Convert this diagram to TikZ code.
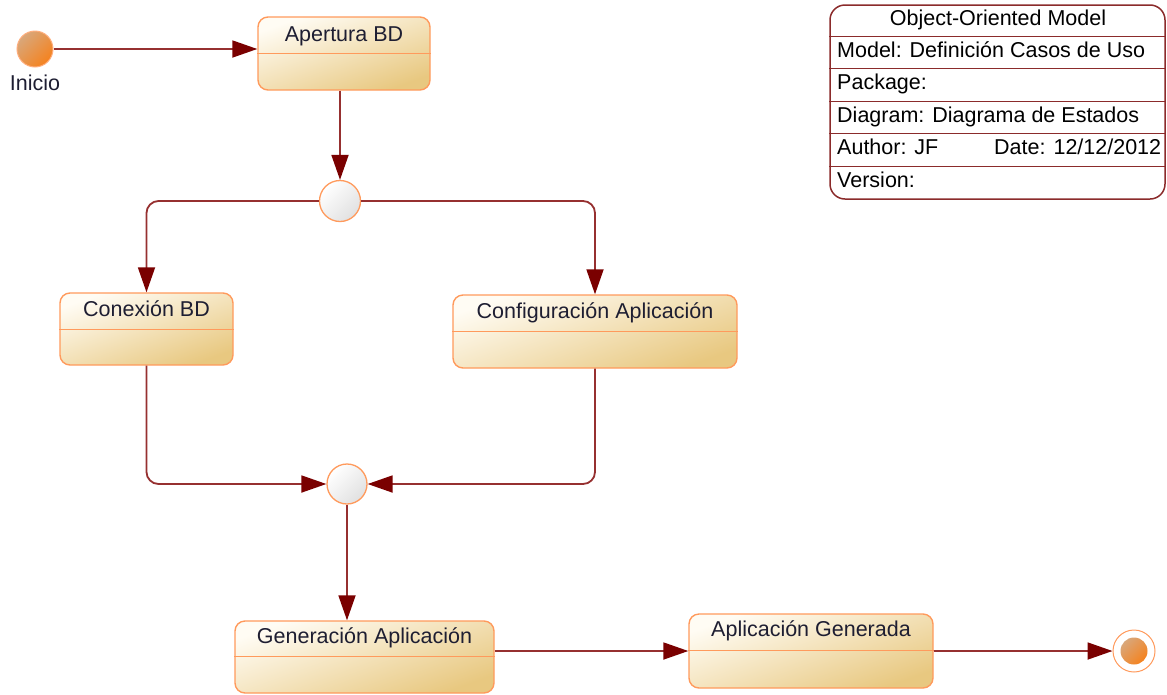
\documentclass[tikz,border=0pt]{standalone}
\usepackage{fontspec}
\setmainfont{Liberation Sans}
\usetikzlibrary{arrows.meta,calc}

\definecolor{boxedge}{HTML}{FF9A5C}
\definecolor{boxlight}{HTML}{FFFCF4}
\definecolor{boxdark}{HTML}{E8C880}
\definecolor{wire}{HTML}{963030}
\definecolor{tipred}{HTML}{7A0000}
\definecolor{inkblue}{HTML}{1E1E32}
\definecolor{framered}{HTML}{8B2B2B}
\definecolor{dotlight}{HTML}{D9A77A}
\definecolor{dotdark}{HTML}{F5821E}

\tikzset{
  statebox/.style={draw=boxedge, line width=1.4pt, rounded corners=10pt,
    top color=boxlight, bottom color=boxdark, shading angle=20, inner sep=0pt},
  statelabel/.style={font=\fontsize{21.5}{25}\selectfont, text=inkblue, inner sep=0pt},
  divider/.style={draw=boxedge, line width=1.6pt},
  flow/.style={draw=wire, line width=1.8pt, rounded corners=12pt,
    -{Triangle[length=25pt,width=17pt,color=tipred]}},
  barnode/.style={circle, draw=boxedge, line width=1.3pt, top color=white,
    bottom color=black!12, shading angle=45, minimum size=41pt, inner sep=0pt},
  startdot/.style={circle, draw=boxedge!80, line width=1pt, top color=dotlight,
    bottom color=dotdark, shading angle=45, minimum size=36pt, inner sep=0pt},
  infotext/.style={font=\fontsize{21.5}{25}\selectfont, text=black, inner sep=0pt},
  inforule/.style={draw=framered, line width=1.3pt},
}

\begin{document}
\begin{tikzpicture}[x=1pt, y=-1pt]
\useasboundingbox (0,0) rectangle (1167,694);

% initial state
\node[startdot] (start) at (35,49) {};
\node[statelabel] (inicio) at (35,82.5) {Inicio};

% states
\node[statebox, minimum width=172pt, minimum height=73pt] (ap) at (344,53.5) {};
\node[statelabel, anchor=base] (apt) at ([yshift=-25pt]ap.north) {Apertura BD};
\draw[divider] ([yshift=-37pt]ap.north west) -- ([yshift=-37pt]ap.north east);

\node[statebox, minimum width=173pt, minimum height=72pt] (cx) at (146.5,329) {};
\node[statelabel, anchor=base] (cxt) at ([yshift=-24pt]cx.north) {Conexión BD};
\draw[divider] ([yshift=-37pt]cx.north west) -- ([yshift=-37pt]cx.north east);

\node[statebox, minimum width=284pt, minimum height=73pt] (cf) at (595,331.5) {};
\node[statelabel, anchor=base] (cft) at ([yshift=-24pt]cf.north) {Configuración Aplicación};
\draw[divider] ([yshift=-37pt]cf.north west) -- ([yshift=-37pt]cf.north east);

\node[statebox, minimum width=259pt, minimum height=72pt] (ga) at (364.5,657) {};
\node[statelabel, anchor=base] (gat) at ([yshift=-23pt]ga.north) {Generación Aplicación};
\draw[divider] ([yshift=-36pt]ga.north west) -- ([yshift=-36pt]ga.north east);

\node[statebox, minimum width=244pt, minimum height=74pt] (ag) at (811,651) {};
\node[statelabel, anchor=base] (agt) at ([yshift=-23pt]ag.north) {Aplicación Generada};
\draw[divider] ([yshift=-37pt]ag.north west) -- ([yshift=-37pt]ag.north east);

% fork and join
\node[barnode] (fk) at (340,201) {};
\node[barnode, minimum size=40pt] (jn) at (347,484) {};

% final state
\node[circle, draw=boxedge, line width=1pt, fill=white, minimum size=42pt, inner sep=0pt] (fin) at (1134,651) {};
\node[circle, top color=dotlight, bottom color=dotdark, shading angle=45, minimum size=27pt, inner sep=0pt] (fincore) at (fin) {};

% transitions
\draw[flow] (start) -- (start -| ap.west);
\draw[flow] (ap.south -| fk) -- (fk.north);
\draw[flow] (fk.west) -| (cx.north);
\draw[flow] (fk.east) -| (cf.north);
\draw[flow] (cx.south) |- (jn.west);
\draw[flow] (cf.south) |- (jn.east);
\draw[flow] (jn.south) -- (jn |- ga.north);
\draw[flow] (ag.west -| ga.east) -- (ag.west);
\draw[flow] (ag.east) -- (fin.west);

% model information block
\node[draw=framered, line width=1.5pt, rounded corners=15pt, fill=white,
      minimum width=335pt, minimum height=194pt, inner sep=0pt] (info) at (997.5,102) {};
\foreach \dy in {32,64,97,129,162}
  \draw[inforule] ([yshift=-\dy pt]info.north west) -- ([yshift=-\dy pt]info.north east);
\node[infotext, anchor=base] (ititle) at (998,25) {Object-Oriented Model};
\node[infotext, anchor=base west] (imodel) at (837,57) {Model: Definición Casos de Uso};
\node[infotext, anchor=base west] (ipack) at (837,89) {Package:};
\node[infotext, anchor=base west] (idiag) at (837,122) {Diagram: Diagrama de Estados};
\node[infotext, anchor=base west] (iauth) at (837,154) {Author: JF};
\node[infotext, anchor=base west] (idate) at (994,154) {Date: 12/12/2012};
\node[infotext, anchor=base west] (ivers) at (837,187) {Version:};
\end{tikzpicture}
\end{document}
